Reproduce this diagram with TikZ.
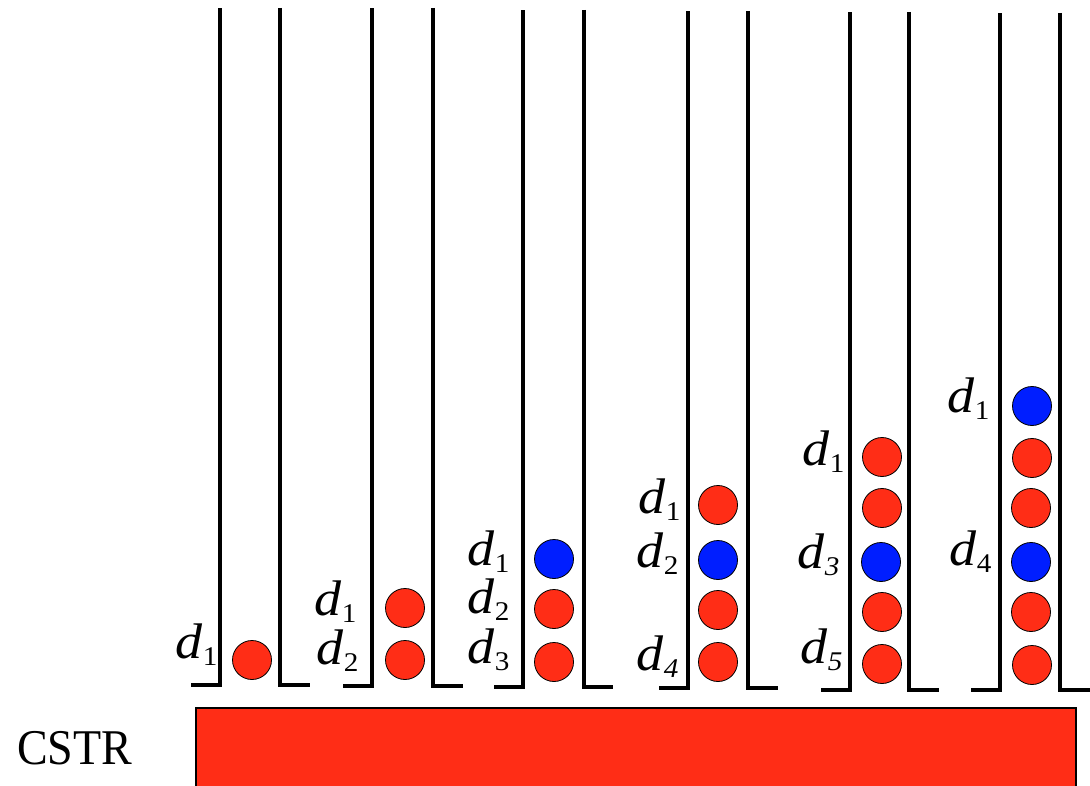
\documentclass[tikz,border=0pt]{standalone}
\usepackage{fontspec}
\setmainfont{Liberation Serif}
\definecolor{cred}{RGB}{255,45,22}
\definecolor{cblue}{RGB}{0,30,255}
\newcommand{\dlab}[1]{\fontsize{50}{50}\selectfont\textit{d}\kern0.5pt\raisebox{-7pt}[0pt][0pt]{\fontsize{27}{27}\selectfont #1}}
\tikzset{
  wall/.style={line width=3.5pt, line join=miter, line cap=butt},
  ball/.style={circle, draw=black, line width=0.8pt, minimum size=39pt, inner sep=0pt},
  rb/.style={ball, fill=cred},
  bb/.style={ball, fill=cblue},
  lab/.style={anchor=base west, inner sep=0pt, xscale=1.08}
}
\begin{document}
\begin{tikzpicture}[x=1pt,y=-1pt]
\useasboundingbox (0,0) rectangle (1090,786);
% tubes
\foreach \L/\R/\T/\B/\RE in {220/280/8/685/310, 372/433/8/686/463, 523/584/10/687/613, 688/748/11/688/778, 850/909/12/690/939, 1000/1060/13/690/1092}{
  \draw[wall] (\L-29,\B) -- (\L,\B) -- (\L,\T);
  \draw[wall] (\R,\T) -- (\R,\B) -- (\RE,\B);
}
% tube 1
\node[rb] (a1) at (252,660) {};
\node[lab] (la1) at (175,658) {\dlab{1}};
% tube 2
\node[rb] (b1) at (405,608) {};
\node[rb] (b2) at (405,660) {};
\node[lab] (lb1) at (314,615) {\dlab{1}};
\node[lab] (lb2) at (316,664) {\dlab{2}};
% tube 3
\node[bb] (c1) at (554,559) {};
\node[rb] (c2) at (554,609) {};
\node[rb] (c3) at (554,662) {};
\node[lab] (lc1) at (467,565) {\dlab{1}};
\node[lab] (lc2) at (467,613) {\dlab{2}};
\node[lab] (lc3) at (467,663) {\dlab{3}};
% tube 4
\node[rb] (e1) at (718,505) {};
\node[bb] (e2) at (718,560) {};
\node[rb] (e3) at (718,610) {};
\node[rb] (e4) at (718,662) {};
\node[lab] (le1) at (638,513) {\dlab{1}};
\node[lab] (le2) at (636,567) {\dlab{2}};
\node[lab] (le4) at (636,670) {\dlab{\textit{4}}};
% tube 5
\node[rb] (f1) at (882,457) {};
\node[rb] (f2) at (882,508) {};
\node[bb] (f3) at (881,562) {};
\node[rb] (f4) at (882,612) {};
\node[rb] (f5) at (882,664) {};
\node[lab] (lf1) at (802,465) {\dlab{1}};
\node[lab] (lf3) at (797,568) {\dlab{\textit{3}}};
\node[lab] (lf5) at (800,663) {\dlab{\textit{5}}};
% tube 6
\node[rb] (g2) at (1032,458) {};
\node[bb] (g1) at (1032,406) {};
\node[rb] (g3) at (1031,508) {};
\node[bb] (g4) at (1031,562) {};
\node[rb] (g5) at (1031,612) {};
\node[rb] (g6) at (1032,665) {};
\node[lab] (lg1) at (947,412) {\dlab{1}};
\node[lab] (lg4) at (949,565) {\dlab{4}};
% CSTR
\draw[fill=cred, draw=black, line width=2pt] (196,708) rectangle (1076,800);
\node[anchor=base west, inner sep=0pt, xscale=0.92] (cstr) at (17,764) {\fontsize{50}{50}\selectfont CSTR};
\end{tikzpicture}
\end{document}
